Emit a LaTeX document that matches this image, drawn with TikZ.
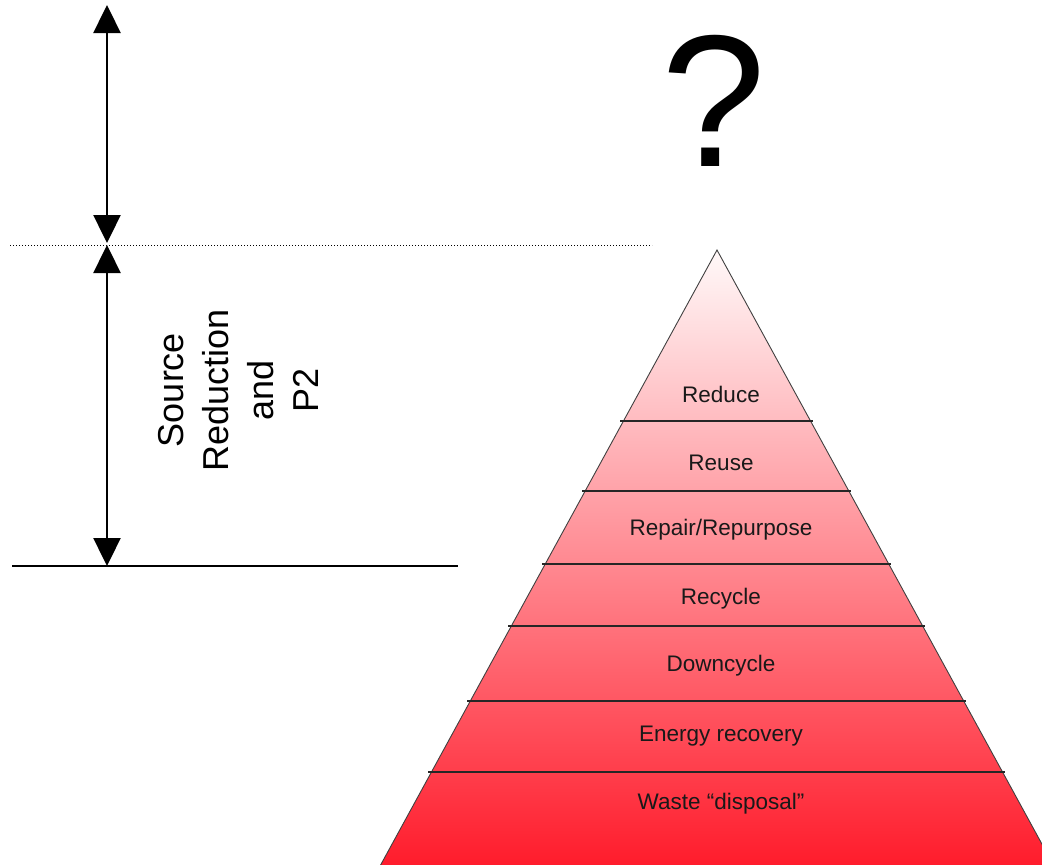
\documentclass[tikz,border=0pt]{standalone}
\usepackage{fontspec}
\setmainfont{Liberation Sans}
\usetikzlibrary{arrows.meta, positioning}

\definecolor{pyrtop}{RGB}{255,249,249}
\definecolor{pyrmid}{RGB}{253,182,186}
\definecolor{pyrbot}{RGB}{255,28,44}

\begin{document}
\begin{tikzpicture}[
    x=1pt, y=-1pt,
    dim/.style={{Triangle[length=28pt, width=27pt]}-{Triangle[length=28pt, width=27pt]}, line width=2.4pt},
    guide/.style={line width=1.6pt},
    dotline/.style={dotted, line width=1pt},
    band/.style={line width=1.1pt, draw=black!85},
    level/.style={font=\fontsize{22.5}{26}\selectfont, text=black!90, inner sep=0pt}
]
\useasboundingbox (0,0) rectangle (1042,865);

% dimension arrows on the left
\coordinate (top) at (107,5);
\coordinate (mid) at (107,244);
\coordinate (base) at (107,566);
\draw[dim] (top) -- ([yshift=1pt]mid);
\draw[dim] ([yshift=-1pt]mid) -- (base);

\coordinate (dotL) at (10,245);
\coordinate (dotR) at (652,245);
\draw[dotline] (dotL) -- (dotR);
\coordinate (baseL) at (12,566);
\coordinate (baseR) at (458,566);
\draw[guide] (baseL) -- (baseR);

\node[rotate=90, align=center, inner sep=0pt,
      font=\fontsize{36}{45}\selectfont] (source) at (238,390)
      {Source\\Reduction\\and\\P2};

\node[inner sep=0pt, font=\fontsize{188}{190}\selectfont] (quest) at (714,101) {?};

% waste hierarchy pyramid
\begin{scope}
  \clip (0,0) rectangle (1042,865);
  \coordinate (apex) at (717,250);
  \coordinate (pL) at (380.6,865);
  \coordinate (pR) at (1053.4,865);
  \shade[top color=pyrtop, middle color=pyrmid, bottom color=pyrbot] (apex) -- (pR) -- (pL) -- cycle;
  \draw[black!75, line width=0.9pt] (pL) -- (apex) -- (pR);
  \foreach \y in {421,491,564,626,701,772}
    \draw[band] ({717-0.547*(\y-250)-3},\y) -- ({717+0.547*(\y-250)+2},\y);
\end{scope}

\foreach \name/\y/\txt in {reduce/394/Reduce, reuse/463/Reuse,
    repair/530/{Repair/Repurpose}, recycle/599/Recycle, down/666/Downcycle,
    energy/736/Energy recovery, waste/804/Waste “disposal”}
  \node[level] (\name) at (721,\y) {\txt};

\end{tikzpicture}
\end{document}
